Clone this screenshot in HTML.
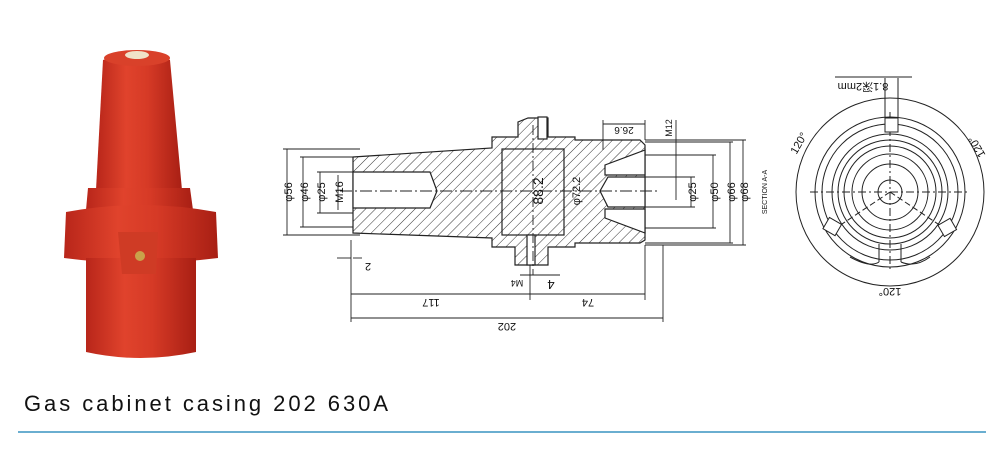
<!DOCTYPE html>
<html><head><meta charset="utf-8"><style>
html,body{margin:0;padding:0;background:#fff;}
svg{display:block;}
text{font-family:"Liberation Sans",sans-serif;}
</style></head><body>
<svg width="1000" height="454" viewBox="0 0 1000 454" xmlns="http://www.w3.org/2000/svg">
<defs>
<pattern id="h" width="7" height="7" patternUnits="userSpaceOnUse" patternTransform="rotate(45)">
<line x1="0" y1="0" x2="0" y2="7" stroke="#333" stroke-width="1"/>
</pattern>
<linearGradient id="r" x1="0" x2="1">
<stop offset="0" stop-color="#b8261a"/><stop offset="0.35" stop-color="#e0432c"/><stop offset="0.6" stop-color="#d63a26"/><stop offset="1" stop-color="#a81f14"/>
</linearGradient>
</defs>
<g>
<path d="M103 60 Q137 48 170 60 L182 190 L96 190 Z" fill="url(#r)"/>
<ellipse cx="137" cy="58" rx="33" ry="8" fill="#d9412a"/>
<ellipse cx="137" cy="55" rx="12" ry="4" fill="#f0e2c8"/>
<path d="M88 188 L190 188 L193 210 L86 210 Z" fill="url(#r)"/>
<path d="M66 212 Q140 198 216 212 L218 258 Q140 268 64 258 Z" fill="url(#r)"/>
<path d="M86 258 L196 258 L196 352 Q140 364 86 352 Z" fill="url(#r)"/>
<path d="M118 232 L158 232 L156 274 L122 274 Z" fill="#cf3b25"/>
<circle cx="140" cy="256" r="5" fill="#c9a24a"/>
</g>
<g stroke="#222" stroke-width="1.2" fill="none">
<path d="M353 157 L492 148 L492 137 L518 137 L518 122 L528 118 L548 118 L548 137 L575 137 L575 140 L640 140 L645 145 L645 240 L640 243 L575 243 L575 247 L548 247 L548 265 L515 265 L515 247 L492 247 L492 238 L353 233 Z" fill="url(#h)"/>
<path d="M353 172 L430 172 L437 191 L430 208 L353 208 Z" fill="#fff"/>
<path d="M645 177 L608 177 L600 191 L608 207 L645 207 Z" fill="#fff"/>
<path d="M645 150 L605 165 L605 175 L645 175 Z M645 233 L605 218 L605 209 L645 209 Z" fill="#fff"/>
<rect x="502" y="149" width="62" height="86"/>
<rect x="538" y="117" width="9" height="22" fill="#fff"/>
<rect x="527" y="235" width="8" height="30" fill="#fff"/>
<g stroke-width="0.9">
<line x1="287" y1="149" x2="287" y2="235"/><line x1="283" y1="149" x2="360" y2="149"/><line x1="283" y1="235" x2="360" y2="235"/>
<line x1="303" y1="157" x2="303" y2="227"/><line x1="300" y1="157" x2="353" y2="157"/><line x1="300" y1="227" x2="353" y2="227"/>
<line x1="320" y1="172" x2="320" y2="213"/><line x1="317" y1="172" x2="353" y2="172"/><line x1="317" y1="213" x2="353" y2="213"/>
<line x1="338" y1="175" x2="338" y2="210"/>
<line x1="691" y1="177" x2="691" y2="207"/><line x1="645" y1="177" x2="695" y2="177"/><line x1="645" y1="207" x2="695" y2="207"/>
<line x1="713" y1="155" x2="713" y2="228"/><line x1="645" y1="155" x2="716" y2="155"/><line x1="645" y1="228" x2="716" y2="228"/>
<line x1="730" y1="142" x2="730" y2="243"/><line x1="645" y1="142" x2="733" y2="142"/><line x1="645" y1="243" x2="733" y2="243"/>
<line x1="743" y1="140" x2="743" y2="245"/><line x1="645" y1="140" x2="746" y2="140"/><line x1="645" y1="245" x2="746" y2="245"/>
<line x1="676" y1="120" x2="676" y2="200"/>
<line x1="603" y1="120" x2="603" y2="150"/><line x1="645" y1="120" x2="645" y2="140"/><line x1="603" y1="124" x2="645" y2="124"/>
<line x1="351" y1="240" x2="351" y2="322"/><line x1="530" y1="265" x2="530" y2="300"/><line x1="645" y1="245" x2="645" y2="300"/><line x1="663" y1="245" x2="663" y2="322"/>
<line x1="351" y1="294" x2="645" y2="294"/><line x1="351" y1="318" x2="663" y2="318"/>
<line x1="337" y1="258" x2="351" y2="258"/><line x1="353" y1="258" x2="362" y2="258"/>
<line x1="520" y1="275" x2="560" y2="275"/>
<line x1="340" y1="191" x2="660" y2="191" stroke-dasharray="12 3 2 3"/>
<line x1="533" y1="125" x2="533" y2="275" stroke-dasharray="10 3 2 3"/>
</g>
</g>
<g fill="#111" font-size="11">
<text transform="translate(292,192) rotate(-90)" text-anchor="middle">φ56</text>
<text transform="translate(308,192) rotate(-90)" text-anchor="middle">φ46</text>
<text transform="translate(325,192) rotate(-90)" text-anchor="middle">φ25</text>
<text transform="translate(343,192) rotate(-90)" text-anchor="middle">M16</text>
<text transform="translate(696,192) rotate(-90)" text-anchor="middle">φ25</text>
<text transform="translate(718,192) rotate(-90)" text-anchor="middle">φ50</text>
<text transform="translate(735,192) rotate(-90)" text-anchor="middle">φ66</text>
<text transform="translate(748,192) rotate(-90)" text-anchor="middle">φ68</text>
<text transform="translate(767,192) rotate(-90)" text-anchor="middle" font-size="7">SECTION A-A</text>
<text transform="translate(543,191) rotate(-90)" text-anchor="middle" font-size="14">88.2</text>
<text transform="translate(580,191) rotate(-90)" text-anchor="middle">φ72.2</text>
<text transform="translate(672,128) rotate(-90)" text-anchor="middle" font-size="9">M12</text>
<text transform="translate(624,127) rotate(180)" text-anchor="middle" font-size="10">26.6</text>
<text transform="translate(368,263) rotate(180)" text-anchor="middle">2</text>
<text transform="translate(431,299) rotate(180)" text-anchor="middle">117</text>
<text transform="translate(588,299) rotate(180)" text-anchor="middle">74</text>
<text transform="translate(507,323) rotate(180)" text-anchor="middle">202</text>
<text transform="translate(517,280) rotate(180)" text-anchor="middle" font-size="9">M4</text>
<text transform="translate(551,280) rotate(180)" text-anchor="middle" font-size="13">4</text>
</g>
<g stroke="#222" stroke-width="1" fill="none">
<circle cx="890" cy="192" r="94"/>
<circle cx="890" cy="192" r="75"/>
<circle cx="890" cy="192" r="68"/>
<circle cx="890" cy="192" r="58"/>
<circle cx="890" cy="192" r="52"/>
<circle cx="890" cy="192" r="46"/>
<circle cx="890" cy="192" r="38"/>
<circle cx="890" cy="192" r="28"/>
<circle cx="890" cy="192" r="12"/>
<line x1="810" y1="192" x2="970" y2="192" stroke-dasharray="8 3 2 3"/>
<line x1="890" y1="112" x2="890" y2="272" stroke-dasharray="8 3 2 3"/>
<line x1="890" y1="192" x2="830" y2="232" stroke-dasharray="6 3"/>
<line x1="890" y1="192" x2="950" y2="232" stroke-dasharray="6 3"/>
<rect x="885" y="118" width="13" height="14" fill="#fff"/>
<line x1="885" y1="78" x2="885" y2="118"/><line x1="898" y1="78" x2="898" y2="118"/>
<line x1="835" y1="77" x2="912" y2="77"/>
<rect x="826" y="220" width="13" height="14" transform="rotate(-60 832 227)" fill="#fff"/>
<rect x="941" y="220" width="13" height="14" transform="rotate(60 947 227)" fill="#fff"/>
<path d="M879 244 L879 262 M901 244 L901 262 M850 257 Q870 268 879 262 M901 262 Q915 268 930 257"/>
</g>
<g fill="#111" font-size="11">
<text transform="translate(863,83) rotate(180)" text-anchor="middle" font-family="Liberation Sans,Noto Sans CJK SC,sans-serif">8.1深2mm</text>
<text transform="translate(802,145) rotate(-60)" text-anchor="middle">120°</text>
<text transform="translate(980,145) rotate(-120)" text-anchor="middle">120°</text>
<text transform="translate(890,288) rotate(180)" text-anchor="middle">120°</text>
</g>
<text x="24" y="411" font-size="22" fill="#111" textLength="364" lengthAdjust="spacing">Gas cabinet casing 202 630A</text>
<line x1="18" y1="432" x2="986" y2="432" stroke="#6aaed0" stroke-width="2"/>
</svg>
</body></html>
